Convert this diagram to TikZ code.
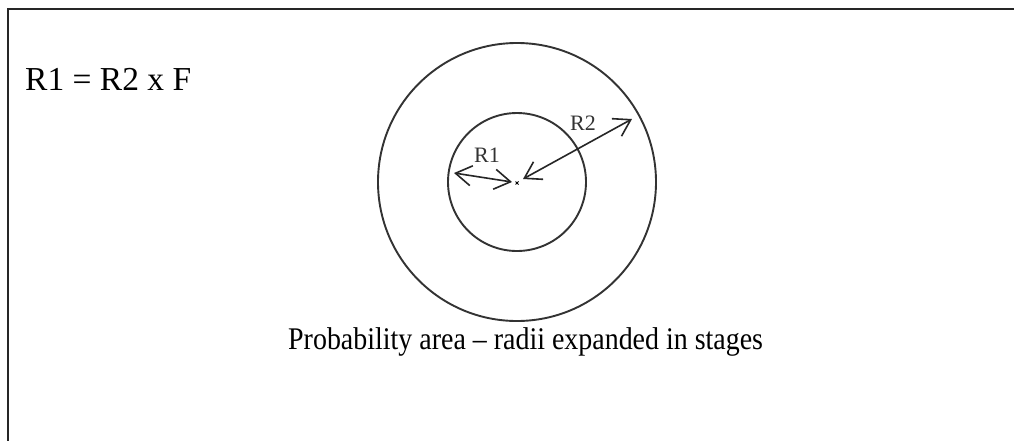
\documentclass[tikz,border=0pt]{standalone}
\usepackage{fontspec}
\setmainfont{Liberation Serif}
\usetikzlibrary{arrows.meta}
\begin{document}
\begin{tikzpicture}[x=1pt,y=-1pt,
  frame/.style={line width=1.6pt, draw=black!85},
  ring/.style={line width=1.9pt, draw=black!80},
  radius arrow/.style={line width=1.6pt, draw=black!85, {Straight Barb[length=16pt,width=20pt,line width=1.6pt]}-{Straight Barb[length=16pt,width=20pt,line width=1.6pt]}},
  bigtext/.style={font=\fontsize{33.5}{40}\selectfont, inner sep=0pt, anchor=base west},
  smalltext/.style={font=\fontsize{22}{26}\selectfont, text=black!80, inner sep=0pt}]
\useasboundingbox (0,0) rectangle (1014,440);
\clip (0,0) rectangle (1014,440);
\fill[white] (0,0) rectangle (1014,440);
% frame (open to right and bottom, continues past the picture)
\draw[frame] (8,460) -- (8,9) -- (1030,9);
% formula
\node[bigtext] (formula) at (25,90) {R1 = R2 x F};
% circles
\coordinate (c) at (517,182);
\draw[ring] (c) circle (69);
\draw[ring] (c) circle (139);
% centre mark
\draw[line width=0.8pt] (515.5,181.5) -- (518.5,184.5) (515.5,184.5) -- (518.5,181.5);
% radii
\coordinate (r1a) at (454,173);
\coordinate (r1b) at (512,182);
\coordinate (r2a) at (523,179);
\coordinate (r2b) at (632,119);
\draw[radius arrow] (r1a) -- (r1b);
\draw[radius arrow] (r2a) -- (r2b);
\node[smalltext] (lr1) at (487,155) {R1};
\node[smalltext] (lr2) at (583,123) {R2};
% caption
\node[bigtext, font=\fontsize{31.5}{38}\selectfont] (caption) at (288,349) {\scalebox{0.887}[1]{Probability area – radii expanded in stages}};
\end{tikzpicture}
\end{document}
